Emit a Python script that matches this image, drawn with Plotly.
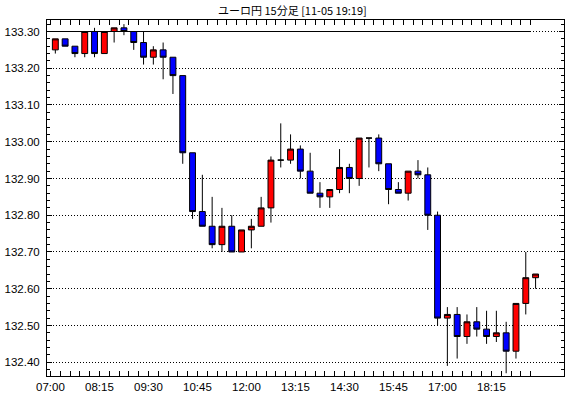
import plotly.graph_objects as go

# ---- data (15-minute EUR/JPY candles, 07:00 .. 19:15) ----
times = [f"{h:02d}:{m:02d}" for h in range(7, 20) for m in (0, 15, 30, 45)][:50]

opens = [133.25, 133.28, 133.26, 133.24, 133.30, 133.24, 133.30, 133.31, 133.30, 133.27,
         133.23, 133.25, 133.23, 133.18, 132.97, 132.81, 132.77, 132.72, 132.77, 132.70,
         132.76, 132.77, 132.82, 132.95, 132.95, 132.98, 132.92, 132.86, 132.85, 132.87,
         132.93, 132.90, 133.01, 133.01, 132.94, 132.87, 132.86, 132.92, 132.91, 132.80,
         132.52, 132.53, 132.47, 132.51, 132.49, 132.47, 132.48, 132.43, 132.56, 132.63]
highs = [133.28, 133.28, 133.26, 133.30, 133.31, 133.30, 133.31, 133.32, 133.30, 133.30,
         133.26, 133.27, 133.23, 133.18, 132.97, 132.91, 132.85, 132.82, 132.80, 132.76,
         132.79, 132.85, 132.96, 133.05, 133.02, 132.99, 132.97, 132.89, 132.87, 132.98,
         132.94, 133.01, 133.01, 133.02, 132.94, 132.89, 132.92, 132.95, 132.93, 132.81,
         132.55, 132.55, 132.53, 132.55, 132.54, 132.54, 132.51, 132.56, 132.70, 132.64]
lows = [133.24, 133.26, 133.23, 133.23, 133.23, 133.24, 133.27, 133.29, 133.25, 133.21,
        133.21, 133.17, 133.13, 132.94, 132.79, 132.77, 132.71, 132.70, 132.70, 132.70,
        132.71, 132.77, 132.78, 132.93, 132.94, 132.90, 132.86, 132.82, 132.82, 132.86,
        132.86, 132.88, 132.93, 132.92, 132.83, 132.86, 132.84, 132.90, 132.76, 132.50,
        132.39, 132.41, 132.45, 132.47, 132.45, 132.455, 132.37, 132.41, 132.53, 132.60]
closes = [133.28, 133.26, 133.24, 133.30, 133.24, 133.30, 133.31, 133.30, 133.27, 133.23,
          133.25, 133.23, 133.18, 132.97, 132.81, 132.77, 132.72, 132.77, 132.70, 132.76,
          132.77, 132.82, 132.95, 132.95, 132.98, 132.92, 132.86, 132.85, 132.87, 132.93,
          132.90, 133.01, 133.01, 132.94, 132.87, 132.86, 132.92, 132.91, 132.80, 132.52,
          132.53, 132.47, 132.51, 132.49, 132.47, 132.48, 132.43, 132.56, 132.63, 132.64]

x_labels = ["07:00", "08:15", "09:30", "10:45", "12:00", "13:15", "14:30", "15:45", "17:00", "18:15"]
y_ticks = [132.40, 132.50, 132.60, 132.70, 132.80, 132.90, 133.00, 133.10, 133.20, 133.30]
ref_level = 133.30
title_text = "ユーロ円 15分足 [11-05 19:19]"

# slot positions: candle i sits at slot i+1
slots = list(range(1, len(times) + 1))
label_pos = [times.index(t) + 1 - 0.5 for t in x_labels]
boundaries = [s - 0.5 for s in slots]

fig = go.Figure()
fig.add_trace(go.Candlestick(
    x=slots, open=opens, high=highs, low=lows, close=closes,
    increasing=dict(fillcolor="#FF0000", line=dict(color="black", width=1)),
    decreasing=dict(fillcolor="#0000FF", line=dict(color="black", width=1)),
    whiskerwidth=0, showlegend=False, hoverinfo="skip",
))

fig.add_shape(type="line", xref="x", yref="y", x0=0.15, x1=boundaries[-1],
              y0=ref_level, y1=ref_level, line=dict(color="black", width=1))

font = dict(family="Liberation Sans", size=11.5, color="black")
fig.update_layout(
    width=570, height=398,
    margin=dict(l=46, r=5, t=20, b=22),
    paper_bgcolor="white", plot_bgcolor="white",
    boxgap=0.4, boxgroupgap=0,
    font=font,
    annotations=[dict(text=title_text, x=(292 - 46) / 519, y=1 + 10 / 356,
                      xref="paper", yref="paper", xanchor="center", yanchor="middle",
                      showarrow=False,
                      font=dict(family="Noto Sans CJK JP", size=11, color="black"))],
)
fig.update_xaxes(
    range=[0.15, 52.9], rangeslider=dict(visible=False),
    showline=True, linecolor="black", linewidth=1, mirror="ticks",
    ticks="inside", ticklen=5, tickcolor="black", tickwidth=1,
    tickmode="array", tickvals=label_pos, ticktext=x_labels,
    showgrid=False, zeroline=False, tickfont=font, ticklabelstandoff=0,
    minor=dict(tickmode="array", tickvals=boundaries, ticks="inside",
               ticklen=5, tickcolor="black", tickwidth=1, showgrid=False),
)
fig.update_yaxes(
    range=[132.3625, 133.3313],
    showline=True, linecolor="black", linewidth=1, mirror="ticks",
    ticks="inside", ticklen=5, tickcolor="black", tickwidth=1,
    tickmode="array", tickvals=y_ticks, ticktext=[f"{v:.2f}" for v in y_ticks],
    showgrid=True, gridcolor="black", gridwidth=1, griddash="1px,2px",
    zeroline=False, tickfont=font, ticklabelstandoff=4,
    minor=dict(dtick=0.02, tick0=132.40, ticks="inside", ticklen=3,
               tickcolor="black", tickwidth=1, showgrid=False),
)

fig.write_html("out.html", config={"displayModeBar": False},
               post_script="document.body.style.margin='0';")
